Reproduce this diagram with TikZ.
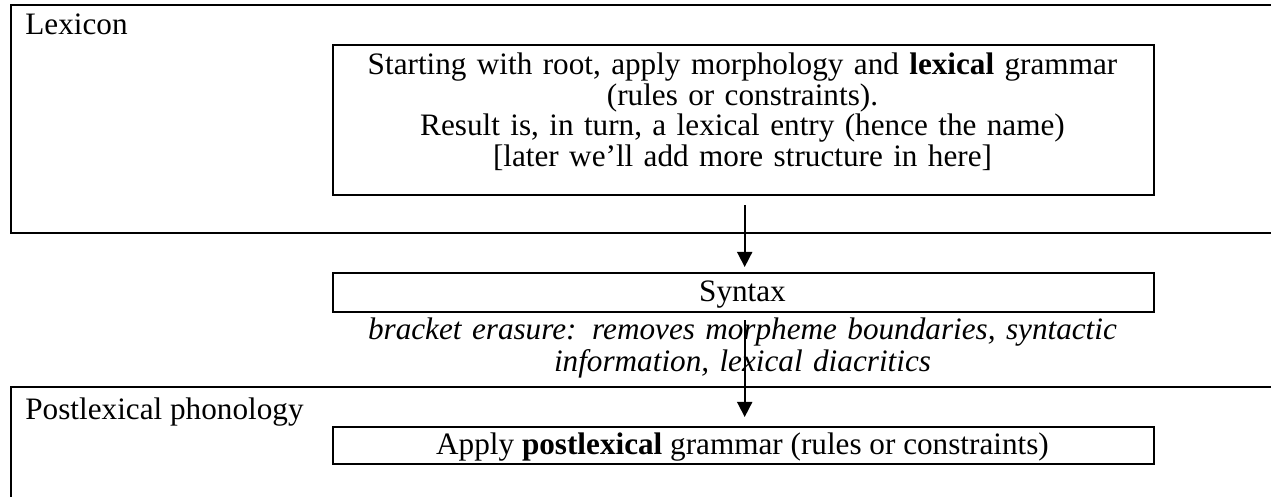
\documentclass[tikz,border=0pt]{standalone}
\usepackage{fontspec}
\setmainfont{Liberation Serif}
\usetikzlibrary{arrows.meta}

\begin{document}
\begin{tikzpicture}[x=0.5pt,y=-0.5pt,line join=miter,
  font=\fontsize{15.6}{15.2}\selectfont,
  panel/.style={draw=black,line width=1.2pt},
  rulebox/.style={draw=black,line width=1.2pt,inner sep=0pt,minimum width=410.5pt,align=center},
  note/.style={inner sep=0pt,text width=405pt,align=center},
  flow/.style={line width=.85pt,-{Triangle[length=7.5pt,width=7.5pt]}}]
\useasboundingbox (0,0) rectangle (1271,497);
\fill[white] (0,0) rectangle (1271,497);
\clip (0,0) rectangle (1271,497);
% the two levels
\draw[panel] (11,5) rectangle (1300,233);
\node[anchor=base west,inner sep=0pt] (lexlabel) at (25,35) {Lexicon};
\draw[panel] (11,387) rectangle (1300,520);
\node[anchor=base west,inner sep=0pt] (postlabel) at (25,420) {Postlexical phonology};
% boxes (note nodes: base = first line)
\node[rulebox,minimum height=75pt,anchor=north west] (lexrules) at (332,44) {};
\node[note,anchor=base] (lextext) at (742.5,75)
  {Starting with root, apply morphology and \textbf{lexical} grammar\\
   (rules or constraints).\\
   Result is, in turn, a lexical entry (hence the name)\\
   {[}later we’ll add more structure in here]};
\node[rulebox,minimum height=19.5pt,anchor=north west] (syntax) at (332,272) {};
\node[anchor=base,inner sep=0pt] (syntaxtext) at (742.5,302) {Syntax};
\node[note,anchor=base,font=\fontsize{15.6}{16}\selectfont\itshape] (erasure) at (742.5,340)
  {bracket erasure: removes morpheme boundaries, syntactic\\
   information, lexical diacritics};
\node[rulebox,minimum height=18.5pt,anchor=north west] (postrules) at (332,426) {};
\node[anchor=base,inner sep=0pt] (posttext) at (742.5,455) {Apply \textbf{postlexical} grammar (rules or constraints)};
% arrows
\draw[flow,shorten <=4.5pt,shorten >=2.5pt] ([xshift=.5pt]lexrules.south) -- ([xshift=.5pt]syntax.north);
\draw[flow,shorten <=3.5pt,shorten >=4.5pt] ([xshift=.5pt]syntax.south) -- ([xshift=.5pt]postrules.north);
\end{tikzpicture}
\end{document}
